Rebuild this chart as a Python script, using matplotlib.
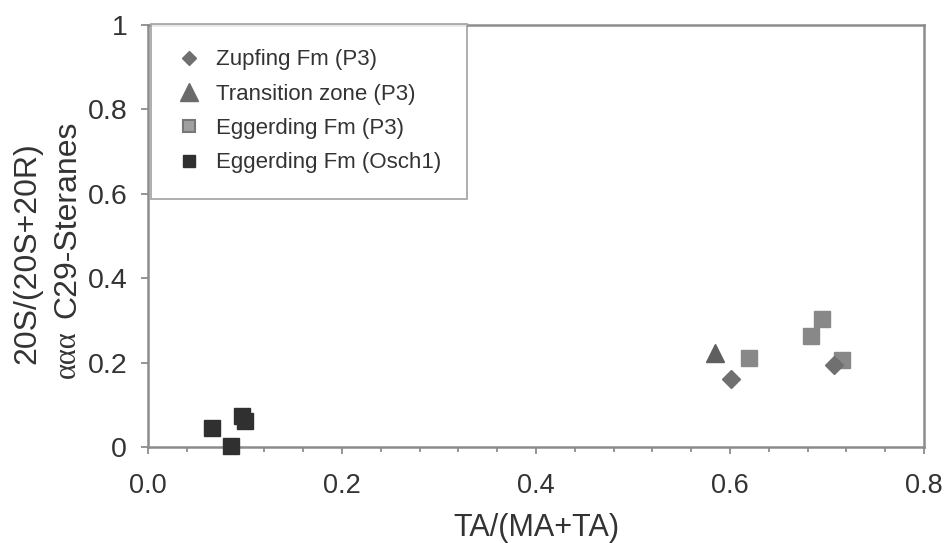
import numpy as np
import matplotlib
matplotlib.use('Agg')
import matplotlib.pyplot as plt
from matplotlib.lines import Line2D
from matplotlib.ticker import MultipleLocator, FuncFormatter

plt.rcParams['font.family'] = ['Liberation Sans', 'DejaVu Sans']

# TA/(MA+TA) vs 20S/(20S+20R) C29 steranes
zupfing_x = [0.601, 0.707]
zupfing_y = [0.162, 0.194]

transition_x = [0.585]
transition_y = [0.223]

egg_p3_x = [0.620, 0.683, 0.695, 0.715]
egg_p3_y = [0.211, 0.263, 0.303, 0.206]

egg_osch_x = [0.066, 0.086, 0.097, 0.100]
egg_osch_y = [0.044, 0.002, 0.073, 0.062]

labels = ['Zupfing Fm (P3)', 'Transition zone (P3)', 'Eggerding Fm (P3)', 'Eggerding Fm (Osch1)']

W, H = 946, 543
fig = plt.figure(figsize=(W / 100, H / 100), dpi=100)
ax = fig.add_axes([148 / W, 1 - 447 / H, (924 - 148) / W, (447 - 25) / H])

ax.plot(egg_osch_x, egg_osch_y, 's', ms=11, color='#303030', mec='#303030', clip_on=False, zorder=3)
ax.plot(egg_p3_x, egg_p3_y, 's', ms=11, color='#888888', mec='#888888', zorder=3)
ax.plot(transition_x, transition_y, '^', ms=13, color='#5f5f5f', mec='#5f5f5f', zorder=3)
ax.plot(zupfing_x, zupfing_y, 'D', ms=8.7, color='#707070', mec='#707070', zorder=4)

ax.set_xlim(0, 0.8)
ax.set_ylim(0, 1)
ax.xaxis.set_major_locator(MultipleLocator(0.2))
ax.xaxis.set_minor_locator(MultipleLocator(0.04))
ax.yaxis.set_major_locator(MultipleLocator(0.2))
ax.xaxis.set_major_formatter(FuncFormatter(lambda v, p: '%.1f' % v))
ax.yaxis.set_major_formatter(FuncFormatter(lambda v, p: '%g' % round(v, 2)))

spine_col = '#8c8c8c'
for s in ax.spines.values():
    s.set_color(spine_col)
    s.set_linewidth(1.8)

ax.tick_params(axis='both', which='major', direction='out', length=5, width=1.3,
               color=spine_col, labelcolor='#333333')
ax.tick_params(axis='x', which='major', pad=13.5, labelsize=19.5)
ax.tick_params(axis='y', which='major', pad=10, labelsize=20.5)
ax.tick_params(axis='x', which='minor', direction='out', length=3.5, width=1.3, color=spine_col)

ax.set_xlabel('TA/(MA+TA)', fontsize=22, color='#333333', labelpad=10)

# two-line y label
fig.text(27 / W, 1 - 253 / H, '20S/(20S+20R)', rotation=90, ha='center', va='center',
         fontsize=23, color='#333333')
fig.text(67 / W, 1 - 378 / H, 'ααα', rotation=90, ha='center', va='bottom',
         fontsize=22, color='#333333', family=['Liberation Serif', 'DejaVu Serif'])
fig.text(67 / W, 1 - 318 / H, 'C29-Steranes', rotation=90, ha='center', va='bottom',
         fontsize=23, color='#333333')

handles = [
    Line2D([], [], ls='none', marker='D', ms=6.8, color='#707070', mec='#707070'),
    Line2D([], [], ls='none', marker='^', ms=13, color='#6a6a6a', mec='#6a6a6a'),
    Line2D([], [], ls='none', marker='s', ms=8, color='#a0a0a0', mec='#777777', mew=1.5),
    Line2D([], [], ls='none', marker='s', ms=8, color='#303030', mec='#303030'),
]
leg = ax.legend(handles, labels, loc='upper left', bbox_to_anchor=(0.004, 1.003),
                borderaxespad=0, fontsize=16, frameon=True, fancybox=False,
                borderpad=1.15, handlelength=1.13, handletextpad=0.65, labelspacing=0.6)
leg.get_frame().set_edgecolor('#9a9a9a')
leg.get_frame().set_linewidth(1.4)
for t in leg.get_texts():
    t.set_color('#333333')

fig.savefig('out.png', dpi=100)
